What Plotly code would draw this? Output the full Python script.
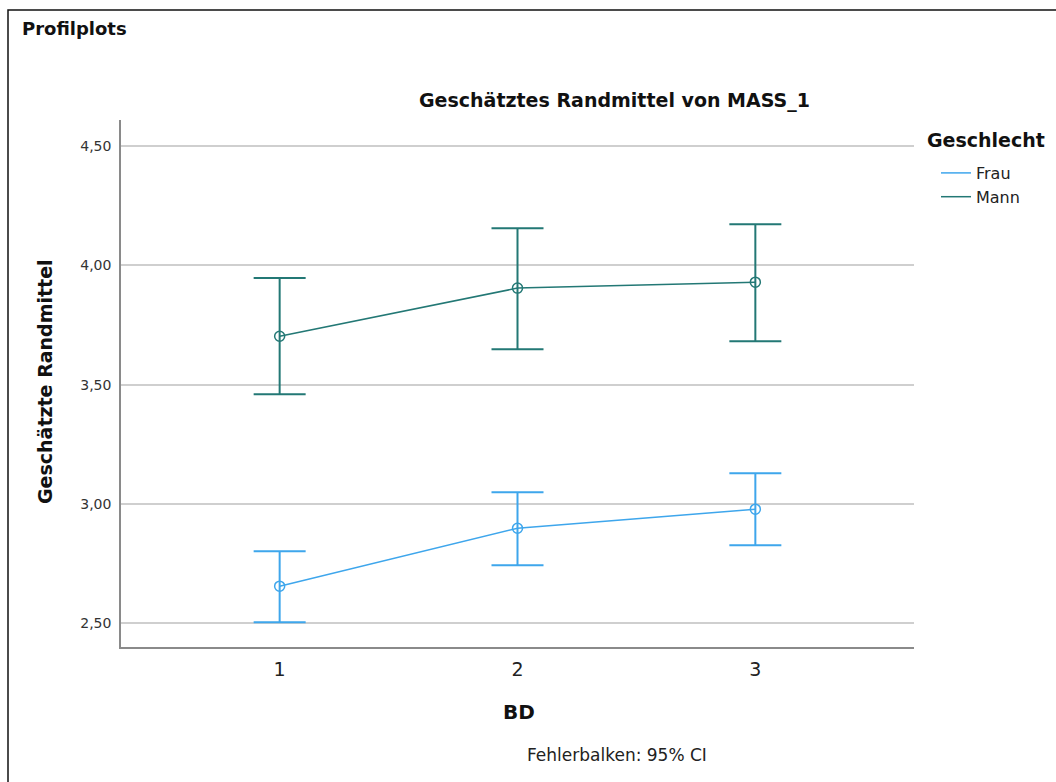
import plotly.graph_objects as go

categories = [1, 2, 3]
frau_mean = [2.655, 2.898, 2.978]
frau_lo = [2.504, 2.743, 2.827]
frau_hi = [2.802, 3.049, 3.129]
mann_mean = [3.703, 3.905, 3.930]
mann_lo = [3.460, 3.649, 3.682]
mann_hi = [3.947, 4.156, 4.173]
y_ticks = [2.5, 3.0, 3.5, 4.0, 4.5]
y_tick_labels = ["2,50", "3,00", "3,50", "4,00", "4,50"]

FRAU_C = "#3ea6ec"
MANN_C = "#237875"
FONT = "DejaVu Sans"

# plot area in pixels
L, R, T, B = 121, 914, 120, 647
W, H = 1056, 782
PW, PH = R - L, B - T


def px(x):
    return (x - L) / PW


def py(y):
    return (B - y) / PH


fig = go.Figure()
for name, mean, lo, hi, col in [
    ("Frau", frau_mean, frau_lo, frau_hi, FRAU_C),
    ("Mann", mann_mean, mann_lo, mann_hi, MANN_C),
]:
    fig.add_trace(go.Scatter(
        x=categories, y=mean, name=name, mode="lines+markers", showlegend=False,
        legendgroup=name,
        line=dict(color=col, width=1.5),
        marker=dict(symbol="circle-open", size=10, color=col, line=dict(width=1.5)),
        error_y=dict(type="data", symmetric=False,
                     array=[h - m for h, m in zip(hi, mean)],
                     arrayminus=[m - l for m, l in zip(mean, lo)],
                     color=col, thickness=2, width=26),
    ))
    # legend entry: line only
    fig.add_trace(go.Scatter(
        x=[None], y=[None], name=name, mode="lines", legendgroup=name,
        line=dict(color=col, width=1.5), showlegend=True,
    ))

fig.update_layout(
    width=W, height=H,
    margin=dict(l=L, r=W - R, t=T, b=H - B, pad=0),
    paper_bgcolor="white", plot_bgcolor="white",
    font=dict(family=FONT, color="#222"),
    showlegend=True,
    legend=dict(
        x=px(936), y=py(156), xanchor="left", yanchor="top",
        font=dict(size=16, color="#222"),
        tracegroupgap=0, itemwidth=30,
        bgcolor="rgba(0,0,0,0)",
    ),
    xaxis=dict(
        range=[0.333, 3.667], tickvals=categories, ticktext=[str(c) for c in categories],
        showgrid=False, zeroline=False, showline=True, linecolor="#8a8a8a", linewidth=1.5,
        ticks="", tickfont=dict(size=19, color="#222"), ticklabelstandoff=4,
    ),
    yaxis=dict(
        range=[2.4, 4.61], tickvals=y_ticks, ticktext=y_tick_labels,
        showgrid=True, gridcolor="#cfcfcf", gridwidth=1.5,
        zeroline=False, showline=True, linecolor="#8a8a8a", linewidth=1.5,
        ticks="", tickfont=dict(size=14, color="#333"), ticklabelstandoff=5,
    ),
    annotations=[
        dict(text="<b>Profilplots</b>", x=px(20), y=py(28), xref="paper", yref="paper",
             xanchor="left", yanchor="middle", showarrow=False, font=dict(size=18, color="#111")),
        dict(text="<b>Geschätztes Randmittel von MASS_1</b>", x=px(614), y=py(101),
             xref="paper", yref="paper", xanchor="center", yanchor="middle", showarrow=False,
             font=dict(size=19, color="#111")),
        dict(text="<b>BD</b>", x=px(519), y=py(712), xref="paper", yref="paper",
             xanchor="center", yanchor="middle", showarrow=False, font=dict(size=20, color="#111")),
        dict(text="<b>Geschätzte Randmittel</b>", x=px(45), y=py(382), xref="paper", yref="paper",
             xanchor="center", yanchor="middle", showarrow=False, textangle=-90,
             font=dict(size=19, color="#111")),
        dict(text="<b>Geschlecht</b>", x=px(925), y=py(140), xref="paper", yref="paper",
             xanchor="left", yanchor="middle", showarrow=False, font=dict(size=19, color="#111")),
        dict(text="Fehlerbalken: 95% CI", x=px(617), y=py(755), xref="paper", yref="paper",
             xanchor="center", yanchor="middle", showarrow=False, font=dict(size=17, color="#222")),
    ],
    shapes=[
        dict(type="rect", xref="paper", yref="paper", x0=px(8), y0=py(800), x1=px(1080), y1=py(10),
             line=dict(color="#111", width=1.5), fillcolor="rgba(0,0,0,0)", layer="below"),
    ],
)

fig.write_html("out.html")
